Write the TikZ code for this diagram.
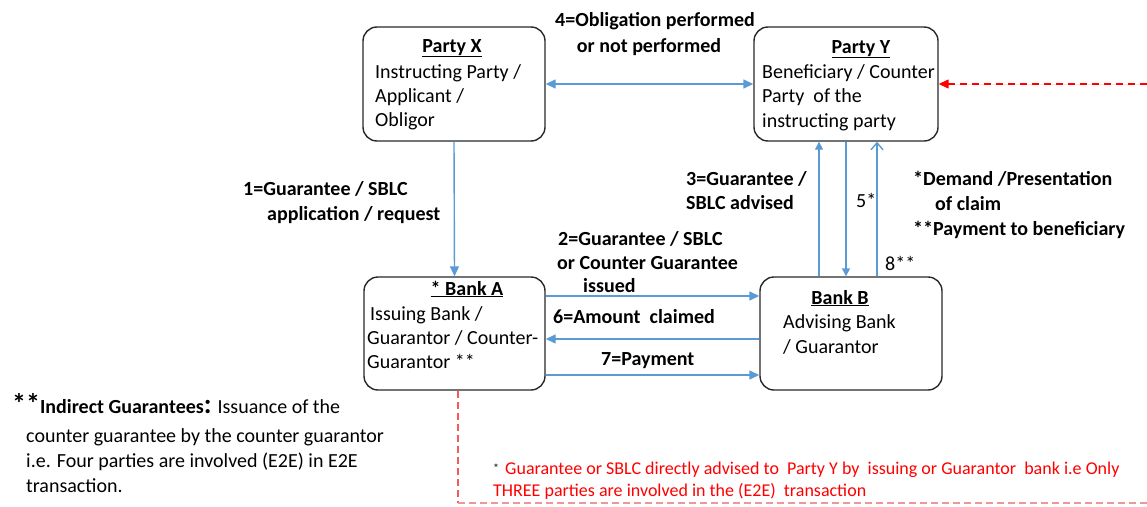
\documentclass[tikz,border=0pt]{standalone}
\usepackage{fontspec}
\setmainfont{Carlito}
\usetikzlibrary{arrows.meta}
\definecolor{arrblue}{RGB}{91,155,213}
\definecolor{boxline}{RGB}{40,40,40}
\definecolor{redmain}{RGB}{255,0,0}
\definecolor{redsoft}{RGB}{245,90,90}
\definecolor{redpale}{RGB}{240,150,150}
\begin{document}
\begin{tikzpicture}[x=1pt,y=-1pt,
  box/.style={draw=boxline, line width=1.4pt, rounded corners=14pt, inner sep=0pt},
  txt/.style={anchor=base west, inner sep=0pt, font=\fontsize{20}{24}\selectfont},
  lbl/.style={anchor=base west, inner sep=0pt, font=\fontsize{20}{24}\selectfont\bfseries},
  ttl/.style={anchor=base, inner sep=0pt, font=\fontsize{20}{24}\selectfont\bfseries},
  rednote/.style={anchor=base west, inner sep=0pt, font=\fontsize{18}{22}\selectfont, text=redmain},
  flow/.style={draw=arrblue, line width=1.4pt},
  fhead/.style={-{Triangle[length=10pt,width=9pt]}},
  reddash/.style={draw=redmain, line width=1.3pt, dash pattern=on 7pt off 5pt},
  redv/.style={draw=redsoft, line width=1.2pt, dash pattern=on 7pt off 4pt},
  redh/.style={draw=redpale, line width=1.2pt, dash pattern=on 7pt off 4pt}]
\useasboundingbox (0,0) rectangle (1147,506);

% boxes
\node[box, minimum width=182pt, minimum height=114pt] (px) at (454,84) {};
\node[box, minimum width=184pt, minimum height=114pt] (py) at (846,84) {};
\node[box, minimum width=181pt, minimum height=113pt] (ba) at (454.5,333.5) {};
\node[box, minimum width=182pt, minimum height=113pt] (bb) at (851,333.5) {};

% box texts
\node[ttl] (pxt) at (452,52) {\underline{Party X}};
\node[txt] (px1) at (375,78) {Instructing Party /};
\node[txt] (px2) at (375,102) {Applicant /};
\node[txt] (px3) at (375,126) {Obligor};

\node[ttl] (pyt) at (861,53) {\underline{Party Y}};
\node[txt] (py1) at (762,78) {Beneficiary / Counter};
\node[txt] (py2) at (762,102) {Party\ \ of the};
\node[txt] (py3) at (762,127) {instructing party};

\node[ttl] (bat) at (467,295) {\underline{* Bank A}};
\node[txt] (ba1) at (370,320) {Issuing Bank /};
\node[txt] (ba2) at (367,344) {Guarantor / Counter-};
\node[txt] (ba3) at (367,368) {Guarantor **};

\node[ttl] (bbt) at (840,304) {\underline{Bank B}};
\node[txt] (bb1) at (783,328) {Advising Bank};
\node[txt] (bb2) at (783,353) {/ Guarantor};

% connectors
\draw[flow, {Triangle[length=10pt,width=9pt]}-{Triangle[length=10pt,width=9pt]}] (px.east) -- (py.west);
\draw[flow, fhead] (px.south) -- (ba.north);
\draw[flow, -{Triangle[length=8pt,width=8pt]}] ([xshift=-32pt]bb.north) -- ([xshift=-27pt]py.south);
\draw[flow, -{Triangle[length=8pt,width=8pt]}] ([xshift=0pt]py.south) -- ([xshift=-5pt]bb.north);
\draw[flow, -{Straight Barb[length=7pt,width=12pt]}] ([xshift=26pt]bb.north) -- ([xshift=31pt]py.south);
\draw[flow, fhead] ([yshift=37.5pt]ba.east) -- ([yshift=37.5pt]bb.west);
\draw[flow, fhead] ([yshift=-5.5pt]bb.west) -- ([yshift=-5.5pt]ba.east);
\draw[flow, fhead] ([yshift=-41.5pt]ba.east) -- ([yshift=-41.5pt]bb.west);

\coordinate (redstart) at (1147,84);
\coordinate (redcorner) at (458,503);
\coordinate (redend) at (1147,503);
\draw[reddash, -{Triangle[length=10pt,width=9pt]}, fill=redmain] (redstart) -- (py.east);
\draw[redv] ([xshift=3.5pt]ba.south) -- (redcorner);
\draw[redh] (redcorner) -- (redend);

% connector labels
\node[ttl] (l4a) at (655,26) {4=Obligation performed};
\node[ttl] (l4b) at (649,52) {or not performed};
\node[lbl] (l1a) at (243,195) {1=Guarantee / SBLC};
\node[lbl] (l1b) at (267,220) {application / request};
\node[lbl] (l2a) at (558,245) {2=Guarantee / SBLC};
\node[lbl] (l2b) at (557,269) {or Counter Guarantee};
\node[lbl] (l2c) at (583,292) {issued};
\node[lbl] (l6) at (553,323) {6=Amount\ \ claimed};
\node[lbl] (l7) at (601,365) {7=Payment};
\node[lbl] (l3a) at (686,185) {3=Guarantee /};
\node[lbl] (l3b) at (686,209) {SBLC advised};
\node[txt] (l5) at (856,207) {5*};
\node[txt] (l8) at (885,270) {8**};
\node[lbl] (d1) at (913,185) {*Demand /Presentation};
\node[lbl] (d2) at (935,210) {of claim};
\node[lbl] (d3) at (913,235) {**Payment to beneficiary};

% notes
\node[txt] (n1) at (12,413) {{\fontsize{28}{28}\selectfont\bfseries **}\textbf{Indirect Guarantees{\fontsize{28}{28}\selectfont:}} Issuance of the};
\node[txt] (n2) at (26,442) {counter guarantee by the counter guarantor};
\node[txt] (n3) at (26,467) {i.e. Four parties are involved (E2E) in E2E};
\node[txt] (n4) at (26,492) {transaction.};

\node[anchor=base west, inner sep=0pt, font=\fontsize{12}{12}\selectfont] (rstar) at (493,472) {*};
\node[rednote] (r1) at (505,474) {Guarantee or SBLC directly advised to\ \ Party Y by\ \ issuing or Guarantor\ \ bank i.e Only};
\node[rednote] (r2) at (493,496) {THREE parties are involved in the (E2E)\ \ transaction};
\end{tikzpicture}
\end{document}
